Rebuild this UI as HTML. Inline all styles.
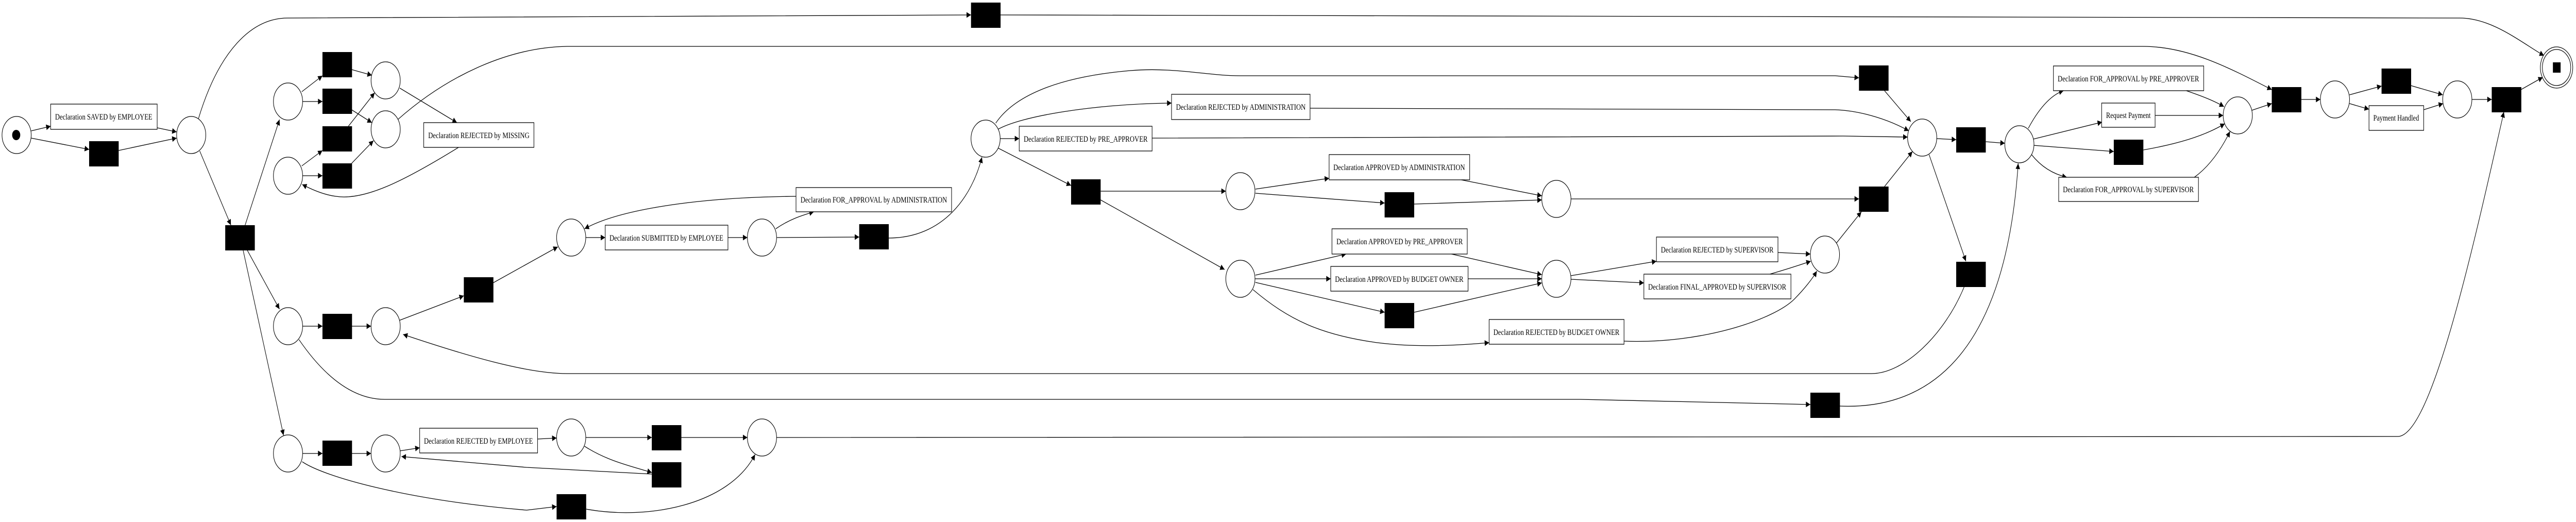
<!DOCTYPE html>
<html><head><meta charset="utf-8"><style>
html,body{margin:0;padding:0;background:#fff;width:100%;height:100%;overflow:hidden;}
svg{display:block;width:100vw;height:100vh;}
text{font-family:"Liberation Serif",serif;font-size:16px;fill:#000;}
</style></head><body>
<svg viewBox="0 0 6359 1013" preserveAspectRatio="none" xmlns="http://www.w3.org/2000/svg">
<defs>
<marker id="a" viewBox="0 0 10 10" refX="10" refY="5" markerWidth="13" markerHeight="11" markerUnits="userSpaceOnUse" orient="auto">
<path d="M0,0 L10,5 L0,10 z" fill="#000"/>
</marker>
</defs>
<g fill="none" stroke="#000" stroke-width="1.3" marker-end="url(#a)">
<path d="M77,254 L125,245"/>
<path d="M77,268 L220,290"/>
<path d="M388,248 L436,256"/>
<path d="M293,292 L436,268"/>
<path d="M490,230 C540,100 620,35 710,35 L2397,29"/>
<path d="M2469,29 L6072,35 C6150,35 6220,80 6280,108"/>
<path d="M493,293 L570,437"/>
<path d="M605,437 L690,232"/>
<path d="M610,485 L690,600"/>
<path d="M600,485 L700,845"/>
<path d="M745,178 L796,147"/>
<path d="M747,197 L796,197"/>
<path d="M745,322 L796,292"/>
<path d="M747,341 L796,341"/>
<path d="M868,135 L918,146"/>
<path d="M868,213 L918,238"/>
<path d="M860,245 L925,180"/>
<path d="M868,317 L922,273"/>
<path d="M987,171 L1128,238"/>
<path d="M1132,286 C1000,350 900,390 829,381 C800,378 770,368 746,358"/>
<path d="M982,232 C1100,150 1250,92 1400,90 L5290,90 C5400,90 5500,130 5608,174"/>
<path d="M747,633 L796,633"/>
<path d="M868,633 L916,633"/>
<path d="M985,622 L1145,574"/>
<path d="M1217,549 L1377,479"/>
<path d="M1446,461 L1494,461"/>
<path d="M1797,461 L1845,461"/>
<path d="M1915,444 C1950,425 1980,418 2009,411"/>
<path d="M1965,381 C1700,383 1520,410 1443,444"/>
<path d="M1918,461 L2121,460"/>
<path d="M2193,462 C2330,462 2400,380 2424,305"/>
<path d="M2469,269 L2516,269"/>
<path d="M2461,252 C2520,225 2700,202 2892,200"/>
<path d="M2458,239 C2500,190 2600,150 2790,137 C2900,130 2980,147 3060,147 L4530,147 L4589,151"/>
<path d="M2463,287 L2644,360"/>
<path d="M3234,210 L4530,213 C4600,215 4670,235 4712,254"/>
<path d="M2844,268 L4550,264 L4709,266"/>
<path d="M2717,371 L3026,371"/>
<path d="M2717,388 L3023,523"/>
<path d="M3099,367 L3281,346"/>
<path d="M3099,375 L3418,394"/>
<path d="M3607,349 L3806,380"/>
<path d="M3491,396 L3806,388"/>
<path d="M3878,386 L4589,386"/>
<path d="M3099,534 L3323,493"/>
<path d="M3098,541 L3285,541"/>
<path d="M3099,548 L3418,606"/>
<path d="M3093,562 C3180,620 3260,650 3400,665 C3500,675 3600,670 3676,665"/>
<path d="M3583,493 L3806,533"/>
<path d="M3624,541 L3806,541"/>
<path d="M3491,606 L3806,549"/>
<path d="M3878,535 L4089,507"/>
<path d="M3878,542 L4058,549"/>
<path d="M4389,490 L4469,493"/>
<path d="M4369,532 C4400,525 4440,515 4470,507"/>
<path d="M4009,662 C4200,668 4380,620 4430,580 C4455,560 4475,540 4485,526"/>
<path d="M4533,472 L4595,411"/>
<path d="M4652,176 L4717,236"/>
<path d="M4652,362 L4721,294"/>
<path d="M4781,269 L4829,271"/>
<path d="M4762,300 L4853,507"/>
<path d="M4849,556 C4800,650 4700,725 4620,725 L1400,725 C1300,725 1150,690 995,649"/>
<path d="M4902,275 L4949,278"/>
<path d="M738,659 C800,730 870,775 950,775 L3900,775 L4469,785"/>
<path d="M4541,788 C4750,795 4950,700 4982,317"/>
<path d="M5007,249 C5030,215 5060,185 5094,176"/>
<path d="M5019,270 L5189,237"/>
<path d="M5019,282 L5218,294"/>
<path d="M5015,300 C5040,325 5070,338 5102,344"/>
<path d="M5397,176 C5430,185 5465,195 5490,207"/>
<path d="M5320,224 L5488,224"/>
<path d="M5291,291 C5370,280 5440,265 5492,240"/>
<path d="M5417,344 C5450,325 5480,295 5505,255"/>
<path d="M5559,214 L5608,201"/>
<path d="M5681,193 L5728,193"/>
<path d="M5800,184 L5879,167"/>
<path d="M5800,201 L5848,212"/>
<path d="M5951,166 L6030,184"/>
<path d="M5983,213 L6031,201"/>
<path d="M6102,193 L6151,193"/>
<path d="M6223,174 L6277,150"/>
<path d="M747,880 L796,880"/>
<path d="M868,880 L916,880"/>
<path d="M987,875 L1036,869"/>
<path d="M1327,852 L1374,850"/>
<path d="M1446,849 L1609,849"/>
<path d="M1443,866 C1500,895 1560,905 1609,917"/>
<path d="M1609,920 L1300,907 L991,886"/>
<path d="M1682,849 L1845,849"/>
<path d="M746,896 C800,925 1000,970 1300,990 L1374,983"/>
<path d="M1447,988 C1600,1010 1800,980 1864,882"/>
<path d="M1917,849 L5919,847 C6000,847 6100,500 6181,217"/>
</g>
<g fill="#fff" stroke="#000" stroke-width="1.3">
<circle cx="41" cy="262" r="36"/>
<circle cx="472" cy="262" r="36"/>
<circle cx="711" cy="197" r="36"/>
<circle cx="711" cy="341" r="36"/>
<circle cx="711" cy="633" r="36"/>
<circle cx="711" cy="880" r="36"/>
<circle cx="952" cy="156" r="36"/>
<circle cx="952" cy="251" r="36"/>
<circle cx="952" cy="633" r="36"/>
<circle cx="952" cy="880" r="36"/>
<circle cx="1410" cy="461" r="36"/>
<circle cx="1881" cy="461" r="36"/>
<circle cx="1410" cy="849" r="36"/>
<circle cx="1881" cy="849" r="36"/>
<circle cx="2433" cy="269" r="36"/>
<circle cx="3062" cy="371" r="36"/>
<circle cx="3062" cy="541" r="36"/>
<circle cx="3842" cy="386" r="36"/>
<circle cx="3842" cy="541" r="36"/>
<circle cx="4505" cy="494" r="36"/>
<circle cx="4745" cy="267" r="36"/>
<circle cx="4985" cy="280" r="36"/>
<circle cx="5524" cy="224" r="36"/>
<circle cx="5764" cy="193" r="36"/>
<circle cx="6066" cy="193" r="36"/>
<circle cx="6311" cy="131" r="40"/>
<circle cx="6311" cy="131" r="35"/>
</g>
<circle cx="40" cy="262" r="10" fill="#000"/>
<rect x="6302" y="121" width="19" height="20" fill="#000"/>
<g fill="#000">
<rect x="220" y="274" width="73" height="49"/>
<rect x="556" y="437" width="73" height="49"/>
<rect x="796" y="101" width="73" height="49"/>
<rect x="796" y="172" width="73" height="49"/>
<rect x="796" y="245" width="73" height="49"/>
<rect x="796" y="317" width="73" height="49"/>
<rect x="796" y="609" width="73" height="49"/>
<rect x="796" y="855" width="73" height="49"/>
<rect x="1145" y="538" width="73" height="49"/>
<rect x="2397" y="5" width="73" height="49"/>
<rect x="2121" y="435" width="73" height="49"/>
<rect x="1609" y="825" width="73" height="49"/>
<rect x="1609" y="897" width="73" height="49"/>
<rect x="1374" y="959" width="73" height="49"/>
<rect x="2644" y="348" width="73" height="49"/>
<rect x="3418" y="373" width="73" height="49"/>
<rect x="3418" y="588" width="73" height="49"/>
<rect x="4589" y="127" width="73" height="49"/>
<rect x="4589" y="362" width="73" height="49"/>
<rect x="4829" y="247" width="73" height="49"/>
<rect x="4829" y="508" width="73" height="49"/>
<rect x="4469" y="762" width="73" height="49"/>
<rect x="5218" y="271" width="73" height="49"/>
<rect x="5608" y="169" width="73" height="49"/>
<rect x="5879" y="133" width="73" height="49"/>
<rect x="6151" y="169" width="73" height="49"/>
</g>
<g fill="#fff" stroke="#000" stroke-width="1.3">
<rect x="125" y="202" width="263" height="49"/>
<rect x="1046" y="238" width="272" height="48"/>
<rect x="1036" y="831" width="291" height="48"/>
<rect x="1494" y="437" width="303" height="48"/>
<rect x="1965" y="364" width="384" height="47"/>
<rect x="2516" y="245" width="328" height="48"/>
<rect x="2892" y="183" width="342" height="49"/>
<rect x="3281" y="300" width="347" height="49"/>
<rect x="3288" y="444" width="334" height="49"/>
<rect x="3285" y="517" width="339" height="48"/>
<rect x="3676" y="620" width="333" height="48"/>
<rect x="4089" y="460" width="300" height="48"/>
<rect x="4058" y="532" width="363" height="48"/>
<rect x="5069" y="128" width="371" height="48"/>
<rect x="5188" y="200" width="132" height="47"/>
<rect x="5082" y="344" width="345" height="47"/>
<rect x="5848" y="205" width="135" height="48"/>
</g>
<g text-anchor="middle">
<text x="256" y="232" textLength="240" lengthAdjust="spacingAndGlyphs">Declaration SAVED by EMPLOYEE</text>
<text x="1182" y="268" textLength="250" lengthAdjust="spacingAndGlyphs">Declaration REJECTED by MISSING</text>
<text x="1181" y="861" textLength="269" lengthAdjust="spacingAndGlyphs">Declaration REJECTED by EMPLOYEE</text>
<text x="1645" y="467" textLength="281" lengthAdjust="spacingAndGlyphs">Declaration SUBMITTED by EMPLOYEE</text>
<text x="2157" y="393" textLength="362" lengthAdjust="spacingAndGlyphs">Declaration FOR_APPROVAL by ADMINISTRATION</text>
<text x="2680" y="275" textLength="306" lengthAdjust="spacingAndGlyphs">Declaration REJECTED by PRE_APPROVER</text>
<text x="3063" y="213" textLength="320" lengthAdjust="spacingAndGlyphs">Declaration REJECTED by ADMINISTRATION</text>
<text x="3454" y="330" textLength="325" lengthAdjust="spacingAndGlyphs">Declaration APPROVED by ADMINISTRATION</text>
<text x="3455" y="474" textLength="312" lengthAdjust="spacingAndGlyphs">Declaration APPROVED by PRE_APPROVER</text>
<text x="3454" y="547" textLength="317" lengthAdjust="spacingAndGlyphs">Declaration APPROVED by BUDGET OWNER</text>
<text x="3842" y="650" textLength="311" lengthAdjust="spacingAndGlyphs">Declaration REJECTED by BUDGET OWNER</text>
<text x="4239" y="490" textLength="278" lengthAdjust="spacingAndGlyphs">Declaration REJECTED by SUPERVISOR</text>
<text x="4239" y="562" textLength="341" lengthAdjust="spacingAndGlyphs">Declaration FINAL_APPROVED by SUPERVISOR</text>
<text x="5254" y="158" textLength="349" lengthAdjust="spacingAndGlyphs">Declaration FOR_APPROVAL by PRE_APPROVER</text>
<text x="5254" y="229" textLength="110" lengthAdjust="spacingAndGlyphs">Request Payment</text>
<text x="5254" y="373" textLength="323" lengthAdjust="spacingAndGlyphs">Declaration FOR_APPROVAL by SUPERVISOR</text>
<text x="5915" y="234" textLength="113" lengthAdjust="spacingAndGlyphs">Payment Handled</text>
</g>
</svg>
</body></html>
